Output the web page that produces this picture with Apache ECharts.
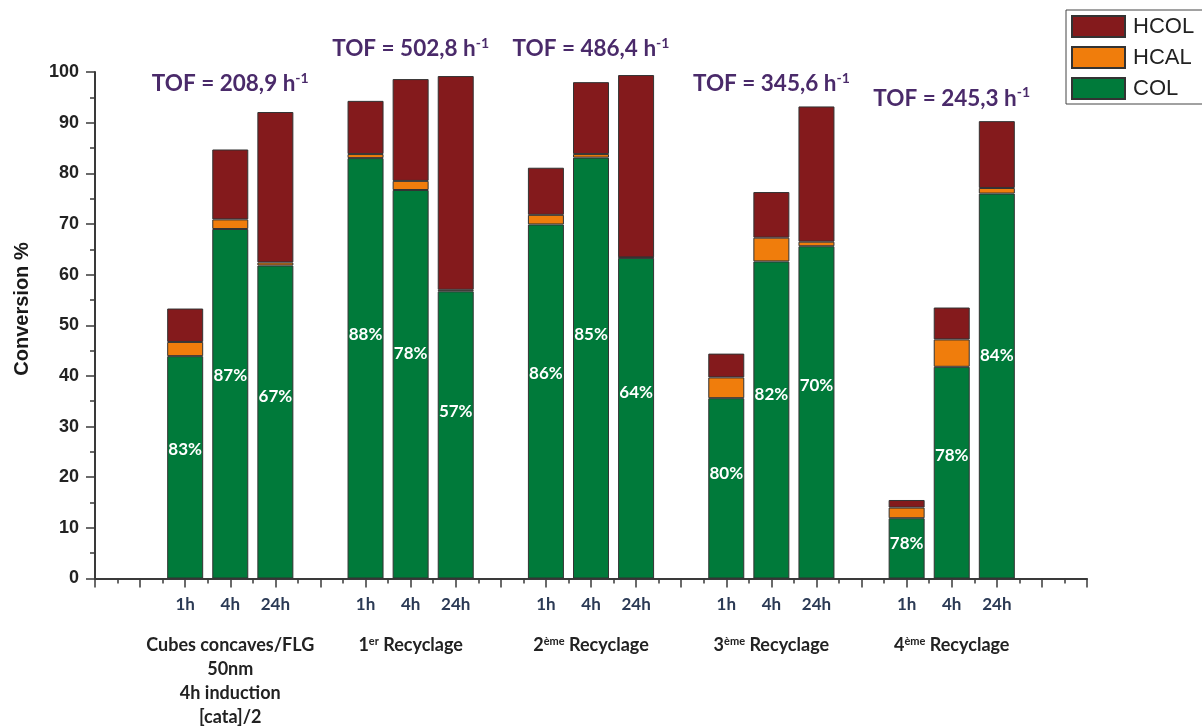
<!DOCTYPE html>
<html>
<head>
<meta charset="utf-8">
<script src="https://cdn.jsdelivr.net/npm/echarts@6/dist/echarts.min.js"></script>
<style>
  html, body { margin: 0; padding: 0; background: #fff; }
  #chart { width: 1202px; height: 727px; }
</style>
</head>
<body>
<div id="chart"></div>
<script>
// Catalytic runs: fresh catalyst, then four recycling runs, each sampled at 1h / 4h / 24h
const times = ['1h', '4h', '24h'];
const groupNames = [
  'Cubes concaves/FLG\n50nm\n4h induction\n[cata]/2',
  '1{sup|er} Recyclage',
  '2{sup|ème} Recyclage',
  '3{sup|ème} Recyclage',
  '4{sup|ème} Recyclage'
];
const tofValues = ['208,9', '502,8', '486,4', '345,6', '245,3'];

// Conversion (%) split by product, run by run (1h, 4h, 24h inside each run)
const colValues  = [43.9, 69.0, 61.8,  83.0, 76.7, 56.7,  69.9, 83.1, 63.3,  35.6, 62.6, 65.6,  11.9, 41.8, 76.0];
const hcalValues = [2.8, 1.9, 0.6,     0.8, 1.8, 0.3,     1.9, 0.7, 0.1,     4.1, 4.7, 0.9,     2.1, 5.4, 1.1];
const hcolValues = [6.6, 13.8, 29.7,   10.5, 20.1, 42.2,  9.3, 14.2, 36.0,   4.7, 9.0, 26.7,    1.5, 6.3, 13.2];
// COL selectivity printed inside the green bars
const colSelectivity = [83, 87, 67,  88, 78, 57,  86, 85, 64,  80, 82, 70,  78, 78, 84];

// ---- layout ----
const X_MAX = 22;                       // x slots: runs sit at 2-4, 6-8, 10-12, 14-16, 18-20
const slotOf = i => 2 + 4 * Math.floor(i / 3) + (i % 3);
const tofLevel = [97.6, 104.5, 104.5, 97.6, 94.8];   // height of each TOF caption (axis units)

const slots = Array.from({ length: X_MAX + 1 }, (_, k) => String(k));
// spread a per-run array over the slot axis (empty slots stay blank)
function onSlots(values) {
  const out = slots.map(() => null);
  values.forEach((v, i) => { out[slotOf(i)] = v; });
  return out;
}
const runOfSlot = slots.map(() => -1);
colValues.forEach((_, i) => { runOfSlot[slotOf(i)] = i; });

const COLORS = { COL: '#007a3a', HCAL: '#f07d0c', HCOL: '#841a1c' };
const AXIS = '#3a3a3a';
const TOF_COLOR = '#4a2a6a';
const FONT_LABEL = 'Lato, "Open Sans", sans-serif';
const FONT_ARIAL = '"Liberation Sans", Arial, sans-serif';

function barSeries(name, values, extra) {
  return Object.assign({
    name: name,
    type: 'bar',
    stack: 'conv',
    barWidth: 36,
    xAxisIndex: 0,
    yAxisIndex: 0,
    data: onSlots(values),
    itemStyle: { color: COLORS[name], borderColor: '#333', borderWidth: 1 },
    emphasis: { disabled: true }
  }, extra || {});
}

const chart = echarts.init(document.getElementById('chart'), null, { renderer: 'canvas' });

chart.setOption({
  animation: false,
  backgroundColor: '#fff',
  grid: { left: 95, right: 115, top: 72, bottom: 148.5, outerBoundsMode: 'none' },
  legend: {
    data: ['HCOL', 'HCAL', 'COL'],
    orient: 'vertical',
    left: 1066,
    top: 10,
    padding: [5, 12, 4, 5],
    itemWidth: 53,
    itemHeight: 21,
    itemGap: 8,
    icon: 'rect',
    borderColor: '#444',
    borderWidth: 1,
    selectedMode: false,
    textStyle: { fontFamily: FONT_ARIAL, fontSize: 22, color: '#222', padding: [0, 0, 0, 3] }
  },
  xAxis: [
    {
      // slot axis carrying the stacked bars
      type: 'category',
      data: slots,
      boundaryGap: false,
      show: false
    },
    {
      // visible axis: ticks, half-ticks and sampling times
      type: 'value',
      position: 'bottom',
      min: 0, max: X_MAX, interval: 1,
      splitLine: { show: false },
      axisLine: { show: true, onZero: false, lineStyle: { color: AXIS, width: 2 } },
      axisTick: { show: true, inside: false, length: 9, lineStyle: { color: AXIS, width: 1.5 } },
      minorTick: { show: true, splitNumber: 2, length: 5, lineStyle: { color: AXIS, width: 1.5 } },
      axisLabel: {
        margin: 18,
        hideOverlap: false,
        showMinLabel: true, showMaxLabel: true,
        fontFamily: FONT_LABEL, fontWeight: 'bold', fontSize: 17, color: '#2b3a55',
        formatter: v => {
          const i = runOfSlot[v];
          return i >= 0 ? times[i % 3] : '';
        }
      }
    },
    {
      // run names under each triplet
      type: 'value',
      position: 'bottom',
      min: 0, max: X_MAX, interval: 1,
      splitLine: { show: false },
      axisLine: { show: false },
      axisTick: { show: false },
      axisLabel: {
        margin: 55,
        hideOverlap: false,
        showMinLabel: true, showMaxLabel: true,
        fontFamily: FONT_LABEL, fontWeight: 'bold', fontSize: 18, color: '#222',
        lineHeight: 24,
        formatter: v => {
          const g = (v - 3) / 4;
          return Number.isInteger(g) && g >= 0 && g < groupNames.length ? groupNames[g] : '';
        },
        rich: {
          sup: { fontFamily: FONT_LABEL, fontWeight: 'bold', fontSize: 11, color: '#222', padding: [0, 0, 8, 0] }
        }
      }
    }
  ],
  yAxis: {
    type: 'value',
    min: 0, max: 100, interval: 10,
    splitLine: { show: false },
    axisLine: { show: true, lineStyle: { color: AXIS, width: 2 } },
    axisTick: { show: true, length: 9, lineStyle: { color: AXIS, width: 1.5 } },
    minorTick: { show: true, splitNumber: 2, length: 5, lineStyle: { color: AXIS, width: 1.5 } },
    axisLabel: {
      margin: 16,
      fontFamily: FONT_ARIAL, fontWeight: 'bold', fontSize: 18, color: '#222'
    }
  },
  graphic: [
    {
      type: 'text',
      x: 22, y: 309,
      rotation: Math.PI / 2,
      style: {
        text: 'Conversion %',
        fontFamily: FONT_ARIAL, fontWeight: 'bold', fontSize: 20, fill: '#1a1a1a',
        textAlign: 'center', textVerticalAlign: 'middle'
      }
    }
  ],
  series: [
    barSeries('COL', colValues, {
      label: {
        show: true,
        position: ['50%', '42%'],
        align: 'center',
        verticalAlign: 'middle',
        fontFamily: FONT_LABEL, fontWeight: 'bold', fontSize: 17, color: '#fff',
        formatter: p => {
          const i = runOfSlot[p.dataIndex];
          return i >= 0 ? colSelectivity[i] + '%' : '';
        }
      }
    }),
    barSeries('HCAL', hcalValues),
    barSeries('HCOL', hcolValues),
    {
      name: 'TOF',
      type: 'scatter',
      xAxisIndex: 1,
      yAxisIndex: 0,
      clip: false,
      silent: true,
      symbol: 'circle',
      symbolSize: 1,
      itemStyle: { color: 'rgba(0,0,0,0)', opacity: 1 },
      emphasis: { disabled: true },
      data: tofLevel.map((y, g) => [3 + 4 * g, y]),
      label: {
        show: true,
        position: 'inside',
        fontFamily: FONT_LABEL, fontWeight: 'bold', fontSize: 22.5, color: TOF_COLOR, opacity: 1,
        formatter: p => 'TOF = ' + tofValues[p.dataIndex] + ' h{sup|-1}',
        rich: {
          sup: { fontFamily: FONT_LABEL, fontWeight: 'bold', fontSize: 14, color: TOF_COLOR, padding: [0, 0, 11, 0] }
        }
      }
    }
  ]
});
</script>
</body>
</html>
